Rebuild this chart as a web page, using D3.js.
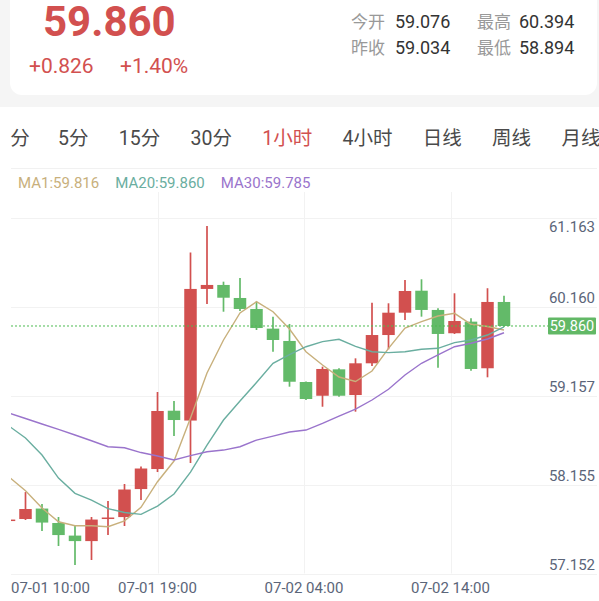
<!DOCTYPE html>
<html><head><meta charset="utf-8">
<script src="https://cdn.jsdelivr.net/npm/d3@7/dist/d3.min.js"></script>
<style>
html,body{margin:0;padding:0;background:#fff;}
svg{display:block;font-family:Roboto,"Noto Sans CJK SC",sans-serif;}
</style></head>
<body><svg id="c" width="599" height="601"></svg>
<script>
// ---- data ----
const lastPrice = "59.860";
const change = "+0.826";
const changePct = "+1.40%";
const statLabels = ["今开", "最高", "昨收", "最低"];
const statValues = ["59.076", "60.394", "59.034", "58.894"];
const tabs = ["1分", "5分", "15分", "30分", "1小时", "4小时", "日线", "周线", "月线"];
const activeTab = "1小时";
const maLabels = ["MA1:59.816", "MA20:59.860", "MA30:59.785"];
const yTicks = [61.163, 60.160, 59.157, 58.155, 57.152];
const xTickLabels = ["07-01 10:00", "07-01 19:00", "07-02 04:00", "07-02 14:00"];
const open  = [57.659,57.682,57.800,57.637,57.495,57.433,57.682,57.704,58.020,58.246,58.904,58.793,60.278,60.323,60.176,60.052,59.830,59.691,59.228,59.073,59.371,59.081,59.439,59.758,60.010,60.258,60.041,59.778,59.909,59.383,60.131];
const close = [57.676,57.795,57.642,57.501,57.433,57.676,57.699,58.015,58.252,58.901,58.799,60.278,60.323,60.179,60.052,59.837,59.702,59.231,59.036,59.375,59.073,59.439,59.758,60.010,60.255,60.041,59.770,59.916,59.375,60.131,59.860];
const high  = [57.682,57.986,57.851,57.704,57.603,57.704,57.885,58.077,58.274,59.115,59.014,60.690,60.989,60.360,60.402,60.131,59.965,59.883,59.234,59.401,59.383,59.495,60.123,60.116,60.379,60.387,60.060,60.229,59.947,60.286,60.202];
const low   = [57.648,57.670,57.546,57.377,57.162,57.219,57.501,57.603,57.896,58.212,58.618,58.314,60.108,60.021,60.029,59.815,59.570,59.175,59.025,58.949,59.062,58.893,59.409,59.597,59.928,59.965,59.389,59.770,59.355,59.281,59.850];
const ma1  = [58.156,58.001,57.806,57.651,57.606,57.606,57.595,57.662,57.814,58.103,58.336,58.822,59.330,59.702,60.007,60.134,60.021,59.826,59.570,59.420,59.284,59.234,59.352,59.608,59.837,59.909,59.973,60.003,59.879,59.854,59.815];
const ma20 = [58.731,58.596,58.404,58.144,57.972,57.896,57.800,57.755,57.735,57.828,57.964,58.212,58.517,58.799,59.014,59.222,59.439,59.538,59.626,59.683,59.710,59.629,59.570,59.559,59.570,59.597,59.608,59.672,59.702,59.758,59.850];
const ma30 = [58.878,58.816,58.754,58.694,58.630,58.565,58.498,58.486,58.432,58.393,58.348,58.398,58.441,58.460,58.498,58.573,58.618,58.664,58.686,58.762,58.844,58.923,59.025,59.146,59.307,59.439,59.533,59.626,59.665,59.713,59.784];

// ---- style ----
const RED = "#d2504f", GREEN = "#63ba69";
const MA_COLORS = ["#c8b07c", "#6aaea0", "#9a74cc"];
const AXIS_TXT = "#5b6579";

const svg = d3.select("#c");
const defs = svg.append("defs");
// page backgrounds
svg.append("rect").attr("x",0).attr("y",0).attr("width",599).attr("height",107).attr("fill","#f5f5f5");
svg.append("rect").attr("x",0).attr("y",107).attr("width",599).attr("height",494).attr("fill","#ffffff");
svg.append("rect").attr("x",10).attr("y",-20).attr("width",587).attr("height",115).attr("rx",12).attr("fill","#ffffff");

// header
svg.append("text").attr("x",43).attr("y",36).attr("fill",RED).attr("font-size",42).attr("font-weight",700).text(lastPrice);
svg.append("text").attr("x",29).attr("y",73).attr("fill",RED).attr("font-size",21).text(change);
svg.append("text").attr("x",120).attr("y",73).attr("fill",RED).attr("font-size",21).text(changePct);
const statPos = [[351,395,28],[477,519,28],[351,395,54],[477,519,54]];
statLabels.forEach((l,i)=>{
  const p = statPos[i];
  svg.append("text").attr("x",p[0]).attr("y",p[2]).attr("fill","#999").attr("font-size",17).text(l);
  svg.append("text").attr("x",p[1]).attr("y",p[2]).attr("fill","#333").attr("font-size",18).text(statValues[i]);
});

// tabs (scrolled strip, clipped at the left padding)
defs.append("clipPath").attr("id","tc").append("rect").attr("x",9.5).attr("y",110).attr("width",590).attr("height",60);
const tabG = svg.append("g").attr("clip-path","url(#tc)");
const tabNodes = tabs.map(t => tabG.append("text").attr("y",145).attr("font-size",19.5)
  .attr("fill", t===activeTab ? RED : "#4a4a4a").text(t));
const widths = tabNodes.map(n => n.node().getComputedTextLength());
const gap = 30.3;
let xs = [];
xs[1] = 58; // left of "5分"
xs[0] = xs[1] - gap - widths[0] + 2;
for (let i=2;i<tabs.length;i++) xs[i] = xs[i-1] + widths[i-1] + gap;
tabNodes.forEach((n,i)=>n.attr("x",xs[i]));

// chart frame
const plotL = 11, plotR = 597, gridTop = 218, gridBot = 573.5, vTop = 200;
svg.append("line").attr("x1",plotL).attr("x2",plotR).attr("y1",168.5).attr("y2",168.5).attr("stroke","#f1f1f1");

const x = d3.scaleLinear().domain([0, open.length-1]).range([9, 504]);
const y = d3.scaleLinear().domain([57.152, 61.163]).range([566, 210.5]);
const gridY = d3.scaleLinear().domain([57.152, 61.163]).range([gridBot, gridTop]);

// grid
const grid = svg.append("g");
yTicks.forEach(t=>{
  grid.append("line").attr("x1",plotL).attr("x2",plotR).attr("y1",Math.round(gridY(t))+0.5).attr("y2",Math.round(gridY(t))+0.5)
    .attr("stroke","#f2f2f2").attr("stroke-width",1);
});
const colW = (plotR-plotL)/4;
d3.range(1,4).forEach(k=>{
  const gx = Math.round(plotL + k*colW)+0.5;
  grid.append("line").attr("x1",gx).attr("x2",gx).attr("y1",vTop-8).attr("y2",gridBot).attr("stroke","#f2f2f2");
});

// legend
let lx = 18;
maLabels.forEach((l,i)=>{
  const t = svg.append("text").attr("x",lx).attr("y",187.5).attr("font-size",15).attr("fill",MA_COLORS[i]).text(l);
  lx += t.node().getComputedTextLength() + 16;
});

// clip
defs.append("clipPath").attr("id","pc").append("rect")
  .attr("x",plotL).attr("y",vTop).attr("width",plotR-plotL).attr("height",gridBot-vTop);
const plot = svg.append("g").attr("clip-path","url(#pc)");

// candles
const idx = d3.range(open.length);
const bw = 12.5;
const cg = plot.append("g");
cg.selectAll("line.w").data(idx).join("line").attr("class","w")
  .attr("x1",i=>x(i)).attr("x2",i=>x(i)).attr("y1",i=>y(high[i])).attr("y2",i=>y(low[i]))
  .attr("stroke",i=>close[i]>=open[i]?RED:GREEN).attr("stroke-width",1.7);
cg.selectAll("rect.b").data(idx).join("rect").attr("class","b")
  .attr("x",i=>x(i)-bw/2).attr("width",bw)
  .attr("y",i=>y(Math.max(open[i],close[i])))
  .attr("height",i=>Math.max(1.5, Math.abs(y(open[i])-y(close[i]))))
  .attr("fill",i=>close[i]>=open[i]?RED:GREEN);

// MA lines
[ma1, ma20, ma30].forEach((arr,k)=>{
  plot.append("path").datum(arr)
    .attr("d", d3.line().x((d,i)=>x(i)).y(d=>y(d)))
    .attr("fill","none").attr("stroke",MA_COLORS[k]).attr("stroke-width",1.4);
});

// last price dotted line + tag
const lp = +lastPrice;
svg.append("line").attr("x1",plotL).attr("x2",548).attr("y1",y(lp)).attr("y2",y(lp))
  .attr("stroke","#4cbb50").attr("stroke-width",1).attr("stroke-dasharray","2,2");
svg.append("rect").attr("x",548).attr("y",y(lp)-8.5).attr("width",48).attr("height",17).attr("fill","#62b866").attr("rx",1);
svg.append("text").attr("x",572).attr("y",y(lp)).attr("dy","0.36em").attr("text-anchor","middle")
  .attr("fill","#fff").attr("font-size",14.5).text(lastPrice);

// y labels
yTicks.forEach(t=>{
  const yy = Math.max(227, y(t)-1.5);
  svg.append("text").attr("x",595).attr("y",yy).attr("dy","0.36em").attr("text-anchor","end")
    .attr("font-size",15).attr("fill",AXIS_TXT).text(t.toFixed(3));
});

// x labels
xTickLabels.forEach((l,k)=>{
  const gx = plotL + k*colW;
  svg.append("text").attr("x", k===0 ? plotL : gx).attr("y",593)
    .attr("text-anchor", k===0 ? "start" : "middle")
    .attr("font-size",15).attr("fill",AXIS_TXT).text(l);
});
</script></body></html>
